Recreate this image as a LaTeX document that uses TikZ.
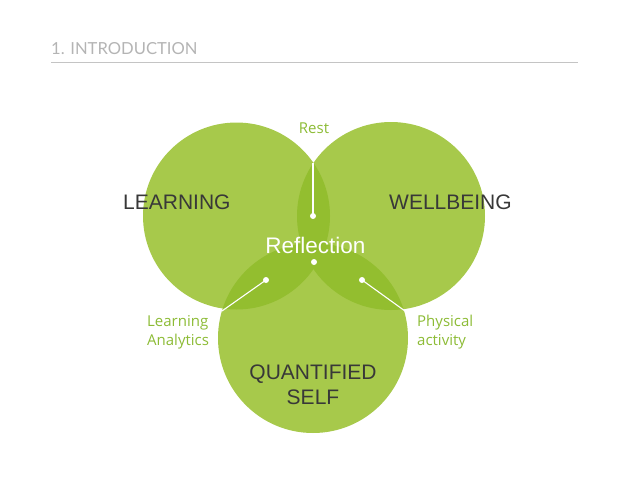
\documentclass[tikz,border=0pt]{standalone}
\usepackage{fontspec}
\setmainfont{Liberation Sans}
\newfontfamily\labfont{Open Sans}
\newfontfamily\ttlfont{Lato}
\definecolor{lightg}{HTML}{A7C94B}
\definecolor{darkg}{HTML}{93BE2F}
\definecolor{labg}{HTML}{8CBB35}
\definecolor{txtg}{HTML}{383838}
\definecolor{ttlg}{HTML}{B4B4B4}
\definecolor{ruleg}{HTML}{C4C4C4}
\tikzset{
  big/.style={inner sep=0pt, text=txtg, font=\fontsize{21}{24}\selectfont},
  lab/.style={inner sep=0pt, text=labg, font=\labfont\fontsize{15}{20}\selectfont},
  dotnode/.style={circle, fill=white, inner sep=0pt, minimum size=6pt},
  conn/.style={white, line width=1.1pt},
}
\begin{document}
\begin{tikzpicture}[x=1pt,y=-1pt]
\useasboundingbox (0,0) rectangle (638,479);
% title
\node[anchor=base west, inner sep=0pt, text=ttlg, font=\ttlfont\fontsize{16.6}{18}\selectfont] (title) at (51,54) {1. INTRODUCTION};
\draw[ruleg, line width=0.8pt] (51,62) -- (578,62);
% circles
\fill[lightg] (236.5,216) circle (93.5);
\fill[lightg] (391,216) circle (94);
\fill[lightg] (313,338) circle (95);
\begin{scope}
  \clip (236.5,216) circle (93.5);
  \fill[darkg] (391,216) circle (94);
  \fill[darkg] (313,338) circle (95);
\end{scope}
\begin{scope}
  \clip (391,216) circle (94);
  \fill[darkg] (313,338) circle (95);
\end{scope}
% connectors
\coordinate (restend) at (313,163);
\coordinate (laend) at (222,311);
\coordinate (paend) at (405,311);
\node[dotnode] (restdot) at (313,216) {};
\node[dotnode] (refdot) at (314,262) {};
\node[dotnode] (ladot) at (266,280) {};
\node[dotnode] (padot) at (362,280) {};
\draw[conn] (restend) -- (restdot.center);
\draw[conn] (ladot.center) -- (laend);
\draw[conn] (padot.center) -- (paend);
% texts
\node[big, anchor=base west] (learning) at (123,209) {LEARNING};
\node[big, anchor=base west] (wellbeing) at (389,209) {WELLBEING};
\node[big, anchor=base] (quant) at (313,379) {QUANTIFIED};
\node[big, anchor=base] (self) at (313,404) {SELF};
\node[inner sep=0pt, anchor=base, text=white, font=\fontsize{22.5}{24}\selectfont] (reflection) at (315.5,253) {Reflection};
\node[lab, anchor=base] (rest) at (314,133) {Rest};
\node[lab, anchor=base west] (la1) at (147,326) {Learning};
\node[lab, anchor=base west] (la2) at (147,345) {Analytics};
\node[lab, anchor=base west] (pa1) at (417,326) {Physical};
\node[lab, anchor=base west] (pa2) at (417,345) {activity};
\end{tikzpicture}
\end{document}
